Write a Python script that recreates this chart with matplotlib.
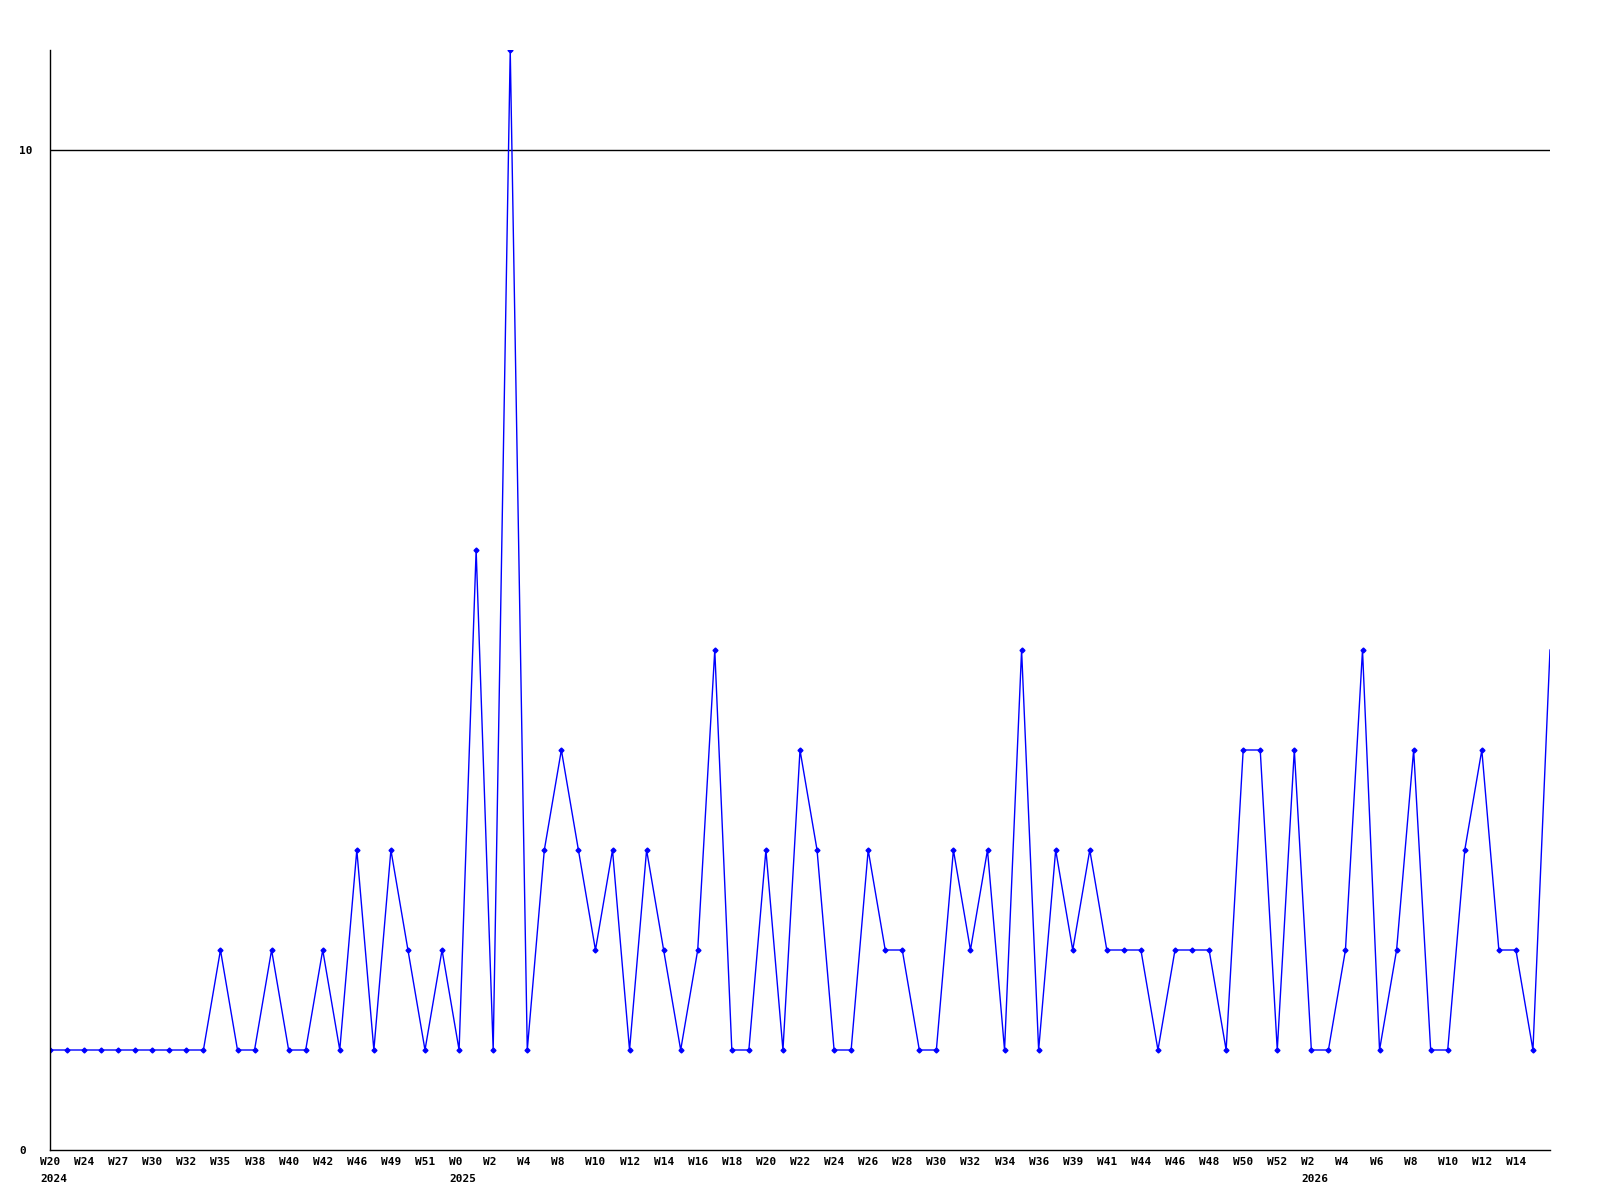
import matplotlib
matplotlib.use("Agg")
import matplotlib.pyplot as plt
import matplotlib.transforms as mtransforms
import numpy as np

# weekly counts, one per point
values = [
    1, 1, 1, 1, 1, 1, 1, 1, 1, 1,
    2, 1, 1, 2, 1, 1, 2, 1, 3, 1,
    3, 2, 1, 2, 1, 6, 1, 11, 1, 3,
    4, 3, 2, 3, 1, 3, 2, 1, 2, 5,
    1, 1, 3, 1, 4, 3, 1, 1, 3, 2,
    2, 1, 1, 3, 2, 3, 1, 5, 1, 3,
    2, 3, 2, 2, 2, 1, 2, 2, 2, 1,
    4, 4, 1, 4, 1, 1, 2, 5, 1, 2,
    4, 1, 1, 3, 4, 2, 2, 1, 5,
]

# labels shown on every second point
week_labels = [
    "W20", "W24", "W27", "W30", "W32", "W35", "W38", "W40", "W42", "W46",
    "W49", "W51", "W0", "W2", "W4", "W8", "W10", "W12", "W14", "W16",
    "W18", "W20", "W22", "W24", "W26", "W28", "W30", "W32", "W34", "W36",
    "W39", "W41", "W44", "W46", "W48", "W50", "W52", "W2", "W4", "W6",
    "W8", "W10", "W12", "W14",
]
year_labels = {0: "2024", 24: "2025", 74: "2026"}

y_ticks = [0, 10]

font = dict(family="DejaVu Sans Mono", fontweight="bold", fontsize=8)
shift_px = -10  # labels start this many pixels left of their point

fig = plt.figure(figsize=(16, 12), dpi=100)
ax = fig.add_axes([50 / 1600, 50 / 1200, 1500 / 1600, 1100 / 1200])

x = np.arange(len(values))
ax.plot(x, values, color="#0000ff", linewidth=1.0, marker="D", markersize=2.5,
        markevery=list(range(len(values) - 1)))

ax.axhline(10, color="black", linewidth=1.0, zorder=0)

ax.set_xlim(0, len(values) - 1)
ax.set_ylim(0, 11)

for side in ("top", "right"):
    ax.spines[side].set_visible(False)
for side in ("left", "bottom"):
    ax.spines[side].set_color("black")
    ax.spines[side].set_linewidth(1.0)

ax.set_yticks(y_ticks)
ax.set_yticklabels([str(t) for t in y_ticks], **font)
for lbl in ax.get_yticklabels():
    lbl.set_horizontalalignment("left")
ax.tick_params(axis="y", length=0, pad=22)

tick_pos = x[::2][:len(week_labels)]
ax.set_xticks(tick_pos)
ax.set_xticklabels(week_labels, **font)
ax.tick_params(axis="x", length=0, pad=5)
shift = mtransforms.ScaledTranslation(shift_px / fig.dpi, 0, fig.dpi_scale_trans)
for lbl in ax.get_xticklabels():
    lbl.set_horizontalalignment("left")
    lbl.set_transform(lbl.get_transform() + shift)

for i, yr in year_labels.items():
    ax.annotate(yr, (i, 0), xycoords=("data", "axes fraction"),
                xytext=(shift_px * 72 / fig.dpi, -17), textcoords="offset points",
                ha="left", va="top", **font)

fig.savefig("out.png", dpi=100)
